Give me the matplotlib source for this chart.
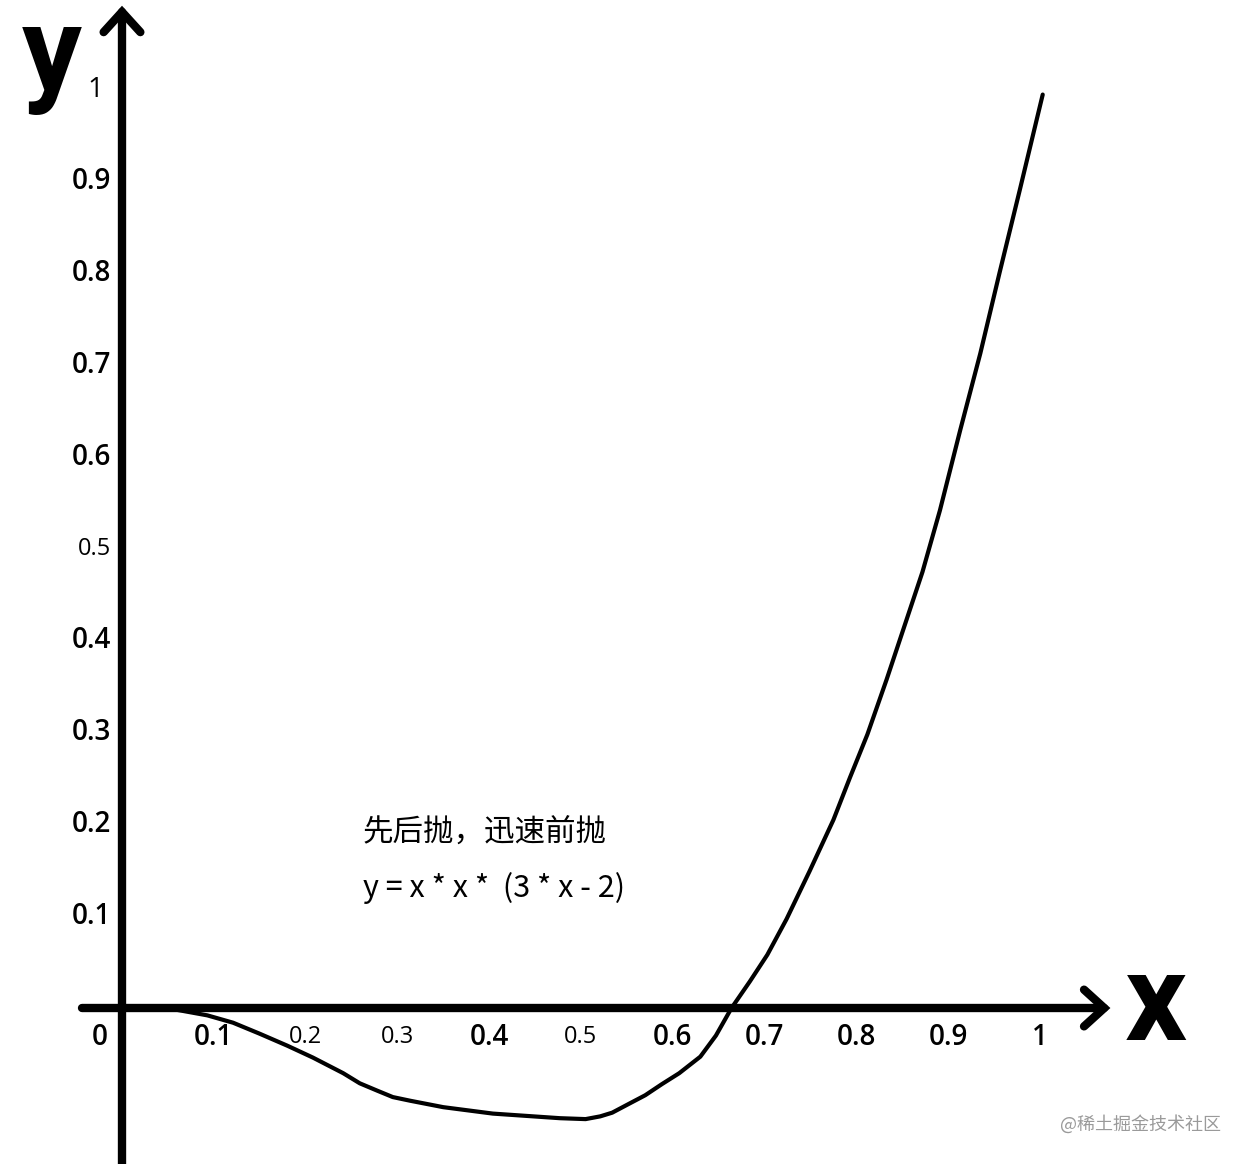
import matplotlib
matplotlib.use("Agg")
import matplotlib.pyplot as plt

# ---- data ----
curve_x = [0.000, 0.031, 0.060, 0.093, 0.121, 0.150, 0.180, 0.208, 0.241, 0.259,
           0.278, 0.295, 0.314, 0.350, 0.404, 0.477, 0.505, 0.521, 0.534, 0.551,
           0.570, 0.588, 0.607, 0.630, 0.647, 0.664, 0.684, 0.703, 0.724, 0.749,
           0.775, 0.793, 0.812, 0.833, 0.855, 0.872, 0.891, 0.913, 0.935, 0.956,
           0.978, 1.003]
curve_y = [0.000, -0.001, -0.002, -0.008, -0.016, -0.028, -0.041, -0.054, -0.071, -0.082,
           -0.090, -0.097, -0.101, -0.108, -0.115, -0.120, -0.121, -0.118, -0.114, -0.105,
           -0.095, -0.083, -0.071, -0.053, -0.030, 0.000, 0.029, 0.058, 0.097, 0.149,
           0.205, 0.251, 0.298, 0.358, 0.424, 0.475, 0.542, 0.629, 0.713, 0.801,
           0.891, 0.995]

x_ticks = [0.1, 0.2, 0.3, 0.4, 0.5, 0.6, 0.7, 0.8, 0.9, 1.0]
x_tick_labels = ["0.1", "0.2", "0.3", "0.4", "0.5", "0.6", "0.7", "0.8", "0.9", "1"]
x_small = ["0.2", "0.3", "0.5"]

y_ticks = [0.1, 0.2, 0.3, 0.4, 0.5, 0.6, 0.7, 0.8, 0.9, 1.0]
y_tick_labels = ["0.1", "0.2", "0.3", "0.4", "0.5", "0.6", "0.7", "0.8", "0.9", "1"]
y_small = ["0.5"]
y_light = ["0.5", "1"]

note_line1 = "先后抛，迅速前抛"
note_line2 = "y = x * x *  (3 * x - 2)"
watermark = "@稀土掘金技术社区"

# ---- figure ----
fig = plt.figure(figsize=(12.5, 11.64), dpi=100)
ax = fig.add_axes([0, 0, 1, 1])
ax.set_xlim(-0.1329, 1.2288)
ax.set_ylim(-0.1699, 1.0980)
ax.axis("off")

axis_lw = 6.0
y_top = 1.085
x_left, x_right = -0.0436, 1.070

# axes with open arrowheads
ax.plot([0, 0], [-0.2, y_top], color="black", lw=axis_lw, solid_capstyle="round")
ax.plot([x_left, x_right], [0, 0], color="black", lw=axis_lw, solid_capstyle="round")
ah_l, ah_w = 0.022, 0.020
ax.plot([-ah_w, 0, ah_w], [y_top - ah_l, y_top, y_top - ah_l], color="black",
        lw=axis_lw, solid_capstyle="round", solid_joinstyle="miter")
ax.plot([x_right - ah_l, x_right, x_right - ah_l], [ah_w, 0, -ah_w], color="black",
        lw=axis_lw, solid_capstyle="round", solid_joinstyle="miter")

# curve
ax.plot(curve_x, curve_y, color="black", lw=3.0, solid_capstyle="round",
        solid_joinstyle="round")

# axis letters
ax.text(-0.076, 0.9995, "y", fontsize=86, fontweight="bold", family="Roboto",
        ha="center", va="baseline")
ax.text(1.126, -0.0349, "x", fontsize=88, fontweight="bold", family="Roboto",
        ha="center", va="baseline")

# tick labels
for v, lab in zip(x_ticks, x_tick_labels):
    small = lab in x_small
    ax.text(v, -0.0316, lab, fontsize=17 if small else 20,
            fontweight="normal" if small else "semibold", family="Open Sans",
            ha="center", va="center")
ax.text(-0.024, -0.0316, "0", fontsize=20, fontweight="semibold", family="Open Sans",
        ha="center", va="center")
for v, lab in zip(y_ticks, y_tick_labels):
    ax.text(-0.0115 if lab != "1" else -0.020, v, lab,
            fontsize=17 if lab in y_small else 20,
            fontweight="normal" if lab in y_light else "semibold", family="Open Sans",
            ha="right", va="center")

# annotation
cjk = ["Noto Sans CJK SC", "DejaVu Sans"]
ax.text(0.2625, 0.1906, note_line1, fontsize=22, family=cjk, ha="left", va="center")
ax.text(0.2625, 0.1307, note_line2, fontsize=22, family=cjk, ha="left", va="center")

# watermark
ax.text(1.0218, -0.1264, watermark, fontsize=13, family=cjk, color="#9a9a9a",
        ha="left", va="center")

fig.savefig("out.png", dpi=100, facecolor="white")
